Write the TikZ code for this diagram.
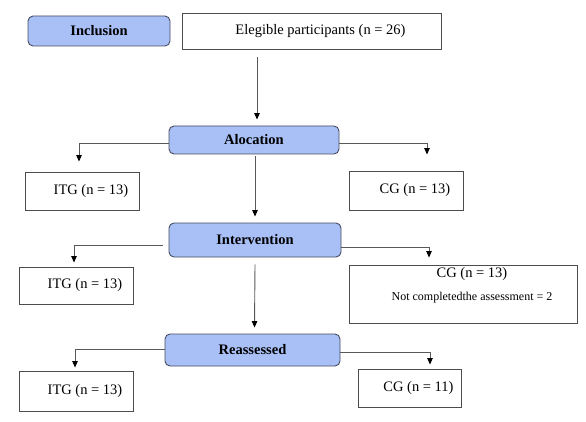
\documentclass[tikz,border=0pt]{standalone}
\usepackage{fontspec}
\setmainfont{Liberation Serif}
\usetikzlibrary{arrows.meta,positioning,calc}
\definecolor{colorStage}{RGB}{168,192,246}
\definecolor{colorStageDraw}{RGB}{70,76,96}
\colorlet{colorLine}{black!65}
\tikzset{
   every path/.style={>={Triangle[length=6.5pt,width=5.5pt,black]}},
   stage/.style={rectangle, rounded corners=5pt, draw=colorStageDraw, fill=colorStage, line width=0.9pt, font=\fontsize{14.5}{17}\selectfont\bfseries, inner sep=0pt},
   group/.style={rectangle, draw=black!70, line width=0.9pt, font=\fontsize{14.5}{17}\selectfont, inner sep=0pt, execute at begin node={\hspace*{18pt}}},
   flow/.style={->, draw=colorLine, line width=0.9pt},
}
\begin{document}
\begin{tikzpicture}[x=1pt,y=-1pt]
\useasboundingbox (0,0) rectangle (586,422);
% stages
\node[stage, minimum width=142, minimum height=30] (incl) at (99,31) {Inclusion};
\node[stage, minimum width=170, minimum height=28] (aloc) at (254,140) {Alocation};
\node[stage, minimum width=172, minimum height=34] (interv) at (255,240) {Intervention};
\node[stage, minimum width=175, minimum height=32] (reass) at (252.5,350) {Reassessed};
% groups
\node[group, minimum width=259, minimum height=36] (eleg) at (311.5,31) {Elegible participants (n = 26)};
\node[group, minimum width=114, minimum height=38] (itgA) at (82,191) {ITG (n = 13)};
\node[group, minimum width=114, minimum height=39] (cgA) at (406,190.5) {CG (n = 13)};
\node[group, minimum width=114, minimum height=37] (itgB) at (76,285.5) {ITG (n = 13)};
\node[group, minimum width=228, minimum height=58, execute at begin node={}] (cgB) at (463,294) {};
\node[font=\fontsize{14.5}{17}\selectfont] (cgBtop) at ([xshift=9,yshift=20]cgB.center) {CG (n = 13)};
\node[font=\fontsize{12}{14}\selectfont] (cgBbot) at ([xshift=9,yshift=-4]cgB.center) {Not completedthe assessment = 2};
\node[group, minimum width=114, minimum height=40] (itgC) at (76,391) {ITG (n = 13)};
\node[group, minimum width=103, minimum height=38] (cgC) at (409.5,388) {CG (n = 11)};

% main line
\draw[flow] ([yshift=-8]eleg.south -| {$(aloc.north)+(3,0)$}) -- ([xshift=3,yshift=6]aloc.north);
\draw[flow] ([xshift=1,yshift=-2]aloc.south) -- ([yshift=6]interv.north);
\draw[flow] ([yshift=-7]interv.south) -- ([xshift=2,yshift=6]reass.north);
% branches
\draw[flow, shorten >=10] ([yshift=-3]aloc.west) -| ([xshift=-3]itgA.north);
\draw[flow, shorten >=16] ([yshift=-3]aloc.east) -| ([xshift=21]cgA.north);
\draw[flow, shorten >=4] ([xshift=-6,yshift=-5]interv.west) -| ([xshift=-2]itgB.north);
\draw[flow, shorten >=7] ([yshift=-7]interv.east) -| ([xshift=-34]cgB.north);
\draw[flow, shorten >=3] ([yshift=1]reass.west) -| ([xshift=-1]itgC.north);
\draw[flow, shorten >=4] ([yshift=-2]reass.east) -| ([xshift=20.5]cgC.north);
\end{tikzpicture}
\end{document}
